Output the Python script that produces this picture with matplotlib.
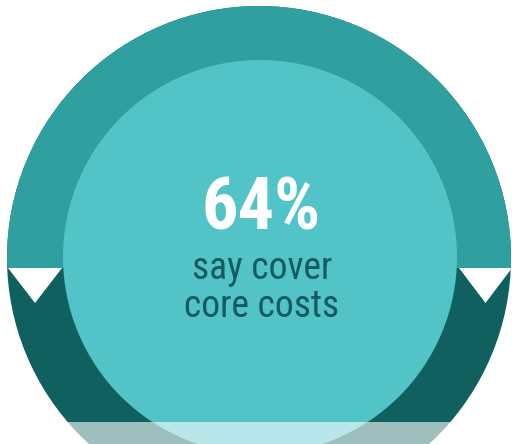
import matplotlib
matplotlib.use("Agg")
import matplotlib.pyplot as plt
from matplotlib import font_manager
from matplotlib.patches import Circle, Rectangle, Polygon

# data
pct = 64
headline = "%d%%" % pct
caption = ["say cover", "core costs"]

# colours
ring_top = "#2fa09f"
ring_bottom = "#0f605e"
inner_col = "#52c3c6"
text_dark = "#125b60"

# look for a narrow face, the original uses a condensed font
installed = font_manager.fontManager.ttflist
names = set(f.name for f in installed)
font_kw = None
for nm in ["Roboto Condensed", "Liberation Sans Narrow", "Open Sans Condensed"]:
    if nm in names:
        font_kw = dict(family=nm)
        sizes = (52, 27)
        break
if font_kw is None:
    if any(f.name == "DejaVu Sans" and f.stretch == "condensed" for f in installed):
        font_kw = dict(family="DejaVu Sans", stretch="condensed")
        sizes = (44, 25)
    else:
        font_kw = dict(family="Roboto")
        sizes = (46, 25)

W, H = 512, 444
fig = plt.figure(figsize=(W / 100.0, H / 100.0), dpi=100)
ax = fig.add_axes([0, 0, 1, 1])
ax.set_xlim(0, W)
ax.set_ylim(H, 0)
ax.axis("off")

cx, cy, r_out, r_in = 259, 258, 252, 197
split_y = 268

# outer ring: dark disc, light top part clipped to it
outer = Circle((cx, cy), r_out, facecolor=ring_bottom, edgecolor="none")
ax.add_patch(outer)
top = Rectangle((0, 0), W, split_y, facecolor=ring_top, edgecolor="none")
ax.add_patch(top)
top.set_clip_path(outer)

# white notches on the split line
for x0, x1 in [(8, 62), (459, 512)]:
    ax.add_patch(Polygon([(x0, split_y), (x1, split_y), ((x0 + x1) / 2.0, 303)],
                         closed=True, facecolor="white", edgecolor="none"))

ax.add_patch(Circle((cx + 1, cy - 1), r_in, facecolor=inner_col, edgecolor="none"))

# translucent strip at the bottom
ax.add_patch(Rectangle((0, 422), W, H - 422, facecolor="white", alpha=0.6,
                       edgecolor="none"))

ax.text(261, 229, headline, color="white", fontsize=sizes[0], fontweight="bold",
        ha="center", va="baseline", **font_kw)
# baseline here is the one of the last line
ax.text(262, 317, "\n".join(caption), color=text_dark, fontsize=sizes[1],
        ha="center", va="baseline", multialignment="center",
        linespacing=1.04, **font_kw)

fig.savefig("out.png", dpi=100)
